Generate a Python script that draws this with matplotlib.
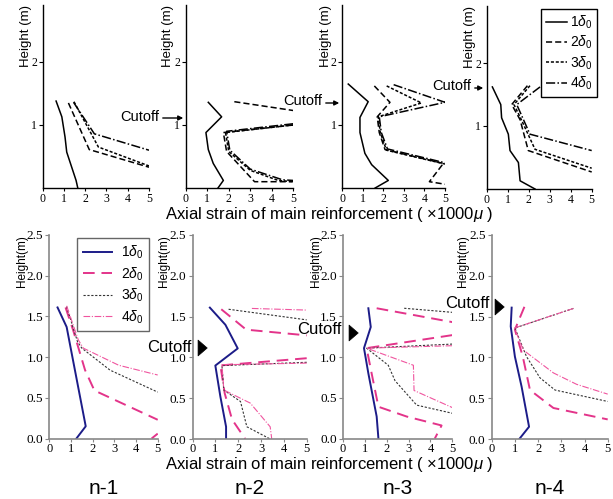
import numpy as np
import matplotlib
matplotlib.use("Agg")
import matplotlib.pyplot as plt
import matplotlib.patches as mpatches

nan = np.nan
plt.rcParams['font.family'] = ['Liberation Sans', 'DejaVu Sans']
plt.rcParams['mathtext.fontset'] = 'custom'
plt.rcParams['mathtext.rm'] = 'Liberation Sans'
plt.rcParams['mathtext.it'] = 'Liberation Sans:italic'

series_labels = [r'1$\delta_{0}$', r'2$\delta_{0}$', r'3$\delta_{0}$', r'4$\delta_{0}$']
panel_names = ['n-1', 'n-2', 'n-3', 'n-4']
x_ticks = [0, 1, 2, 3, 4, 5]
top_y_ticks = [1, 2]
bottom_y_ticks = [0.0, 0.5, 1.0, 1.5, 2.0, 2.5]

# ---- top row (black & white) ----
t1_x = [[0.63, 0.9, 1.05, 1.13, 1.57, 1.65],
        [1.21, 2.19, 5.0],
        [1.47, 2.62, 5.0],
        [1.45, 2.43, 5.0]]
t1_y = [[1.38, 1.13, 0.81, 0.57, 0.12, 0.0],
        [1.35, 0.61, 0.33],
        [1.37, 0.65, 0.35],
        [1.36, 0.86, 0.6]]
t2_x = [[1.05, 1.67, 0.94, 1.05, 1.28, 1.75, 1.5],
        [2.26, 5.0, nan, 5.0, 1.75, 1.9, 3.2, 5.0],
        [5.0, 1.85, 2.0, 3.0, 4.3, 5.0],
        [5.0, 1.9, 2.05, 3.0, 4.5, 5.0]]
t2_y = [[1.36, 1.13, 0.88, 0.61, 0.39, 0.12, 0.0],
        [1.37, 1.23, nan, 1.0, 0.88, 0.58, 0.1, 0.1],
        [1.0, 0.88, 0.58, 0.28, 0.12, 0.1],
        [1.02, 0.9, 0.6, 0.3, 0.13, 0.12]]
t3_x = [[0.29, 1.26, 0.86, 0.86, 1.1, 1.43, 2.24, 1.6],
        [1.56, 2.32, 1.7, 1.8, 2.08, 4.92, 4.24, 5.0],
        [2.16, 3.85, 1.75, 1.85, 2.15, 5.0],
        [2.5, 5.0, 1.8, 1.9, 2.2, 5.0]]
t3_y = [[1.65, 1.37, 1.12, 0.88, 0.55, 0.37, 0.12, 0.0],
        [1.62, 1.36, 1.13, 0.88, 0.61, 0.39, 0.1, 0.06],
        [1.62, 1.35, 1.13, 0.88, 0.6, 0.38],
        [1.64, 1.36, 1.13, 0.88, 0.62, 0.4]]
t4_x = [[0.27, 0.67, 0.71, 1.03, 1.11, 1.51, 1.59, 2.3],
        [1.94, 1.19, 1.59, 1.98, 5.0],
        [2.06, 1.3, 1.65, 2.3, 5.0],
        [2.54, 1.43, 2.06, 5.0]]
t4_y = [[1.62, 1.34, 1.13, 0.87, 0.61, 0.42, 0.13, 0.0],
        [1.64, 1.34, 1.1, 0.61, 0.27],
        [1.64, 1.34, 1.1, 0.63, 0.33],
        [1.62, 1.34, 0.87, 0.61]]

# ---- bottom row (colour) ----
b1_x = [[0.38, 0.8, 1.03, 1.42, 1.68, 1.25],
        [0.75, 1.1, 1.65, 2.08, 5.0, nan, 4.72, 5.0],
        [0.8, 1.3, 1.5, 2.8, 5.0],
        [0.8, 1.34, 1.57, 3.2, 5.0]]
b1_y = [[1.61, 1.37, 1.05, 0.51, 0.15, 0.0],
        [1.61, 1.33, 0.84, 0.59, 0.23, nan, 0.0, 0.06],
        [1.62, 1.19, 1.11, 0.84, 0.57],
        [1.63, 1.21, 1.11, 0.9, 0.78]]
b2_x = [[0.76, 1.44, 1.98, 1.0, 1.22, 1.47, 1.47],
        [1.26, 2.35, 5.0, nan, 5.0, 1.15, 1.25, 1.41, 1.73, 2.31],
        [1.58, 5.0, nan, 5.0, 1.29, 1.37, 2.1, 2.38, 3.4],
        [2.6, 5.0, nan, 5.0, 1.29, 1.37, 2.53, 3.4, 3.47]]
b2_y = [[1.61, 1.4, 1.11, 0.9, 0.52, 0.15, 0.0],
        [1.59, 1.34, 1.27, nan, 0.99, 0.9, 0.85, 0.56, 0.24, 0.0],
        [1.59, 1.46, nan, 0.94, 0.9, 0.6, 0.46, 0.15, 0.0],
        [1.6, 1.58, nan, 0.93, 0.91, 0.6, 0.44, 0.15, 0.0]]
b3_x = [[1.16, 1.27, 0.96, 1.16, 1.54, 1.62],
        [1.54, 5.0, nan, 5.0, 1.08, 1.31, 1.62, 2.91, 4.51, 4.2],
        [2.8, 5.0, nan, 5.0, 1.08, 2.07, 2.38, 3.37, 5.0],
        [5.0, 1.08, 3.22, 3.25, 5.0]]
b3_y = [[1.6, 1.37, 1.11, 0.8, 0.27, 0.0],
        [1.6, 1.43, nan, 1.27, 1.11, 0.8, 0.39, 0.27, 0.16, 0.0],
        [1.6, 1.55, nan, 1.16, 1.11, 0.9, 0.71, 0.41, 0.31],
        [1.14, 1.11, 0.9, 0.59, 0.38]]
b4_x = [[0.86, 0.82, 1.0, 1.29, 1.61, 1.19],
        [1.41, 1.0, 1.34, 1.65, 2.66, 5.0],
        [3.52, 1.0, 1.5, 2.08, 2.73, 5.0],
        [3.52, 0.98, 1.36, 2.66, 3.66, 5.0]]
b4_y = [[1.61, 1.38, 1.01, 0.64, 0.15, 0.0],
        [1.62, 1.34, 1.01, 0.6, 0.38, 0.24],
        [1.6, 1.36, 1.01, 0.75, 0.6, 0.46],
        [1.6, 1.36, 1.09, 0.81, 0.67, 0.55]]

top_data = [(t1_x, t1_y), (t2_x, t2_y), (t3_x, t3_y), (t4_x, t4_y)]
bot_data = [(b1_x, b1_y), (b2_x, b2_y), (b3_x, b3_y), (b4_x, b4_y)]

W, H = 613, 499
fig = plt.figure(figsize=(W / 100, H / 100), dpi=100)


def rect(l, r, b, t):
    return [l / W, 1 - b / H, (r - l) / W, (b - t) / H]


def px(x, y):
    return (x / W, 1 - y / H)


top_styles = [dict(color='k', lw=1.1, ls='-'),
              dict(color='k', lw=1.1, ls=(0, (4, 2))),
              dict(color='k', lw=1.1, ls=(0, (2, 1.2))),
              dict(color='k', lw=1.1, ls=(0, (6, 1.5, 1, 1.5)))]
bot_styles = [dict(color='#1c1c88', lw=1.4, ls='-'),
              dict(color='#e3348a', lw=1.4, ls=(0, (6, 3.5))),
              dict(color='#333333', lw=0.8, ls=(0, (2, 1.5))),
              dict(color='#f0559f', lw=0.8, ls=(0, (6, 1.5, 1, 1.5)))]

top_rects = [rect(42.7, 149, 188, 188 - 2.9 * 63),
             rect(185.7, 293.3, 188, 188 - 2.9 * 63),
             rect(342.3, 445, 188, 188 - 2.9 * 63),
             rect(486.7, 591.7, 189, 189 - 2.9 * 63)]
bot_rects = [rect(49.3, 157.7, 438.5, 235),
             rect(192.5, 306.7, 439, 235),
             rect(343, 452.3, 438.5, 235),
             rect(491.7, 607.7, 439, 235)]

serif = 'Liberation Serif'
top_handles = None
bot_handles = None

for i, (r, (xs, ys)) in enumerate(zip(top_rects, top_data)):
    ax = fig.add_axes(r)
    hs = []
    for k in range(4):
        h, = ax.plot(xs[k], ys[k], **top_styles[k])
        hs.append(h)
    if i == 3:
        top_handles = hs
    ax.set_xlim(0, 5)
    ax.set_ylim(0, 2.9)
    ax.set_xticks(x_ticks)
    ax.set_yticks(top_y_ticks)
    ax.set_xticklabels([str(v) for v in x_ticks], fontfamily=serif, fontsize=8.5)
    ax.set_yticklabels([str(v) for v in top_y_ticks], fontfamily=serif, fontsize=8.5)
    for s in ['top', 'right']:
        ax.spines[s].set_visible(False)
    for s in ['left', 'bottom']:
        ax.spines[s].set_color('k')
        ax.spines[s].set_linewidth(1.0)
    ax.tick_params(axis='y', direction='out', length=3, width=0.8, pad=1)
    ax.tick_params(axis='x', direction='out', length=2, width=0.8, pad=1.5)
    ax.set_facecolor('none')
    ax.text(-0.16, 1.0, 'Height (m)', transform=ax.transAxes, rotation=90,
            ha='center', va='top', fontsize=9.5)

for i, (r, (xs, ys)) in enumerate(zip(bot_rects, bot_data)):
    ax = fig.add_axes(r)
    hs = []
    for k in range(4):
        h, = ax.plot(xs[k], ys[k], **bot_styles[k])
        hs.append(h)
    if i == 0:
        bot_handles = hs
    ax.set_xlim(0, 5)
    ax.set_ylim(0, 2.5)
    ax.set_xticks(x_ticks)
    ax.set_yticks(bottom_y_ticks)
    ax.set_xticklabels([str(v) for v in x_ticks], fontfamily=serif, fontsize=9)
    ax.set_yticklabels(['%.1f' % v for v in bottom_y_ticks], fontfamily=serif,
                       fontsize=9.5)
    for s in ['top', 'right']:
        ax.spines[s].set_visible(False)
    for s in ['left', 'bottom']:
        ax.spines[s].set_color('#888888')
        ax.spines[s].set_linewidth(1.2)
    ax.tick_params(direction='out', length=3, width=0.8, color='#888888', pad=1.5)
    ax.tick_params(axis='x', length=2, pad=1)
    ax.set_facecolor('none')
    ax.text(-0.25, 1.0, 'Height(m)', transform=ax.transAxes, rotation=90,
            ha='center', va='top', fontsize=8.5)
    fig.text((r[0] + r[2] / 2), 1 - 488 / H, panel_names[i], ha='center',
             va='center', fontsize=15)

# legends
fig.legend(top_handles, series_labels, loc='upper left',
           bbox_to_anchor=px(541, 9), bbox_transform=fig.transFigure,
           fontsize=10, handlelength=1.5, handletextpad=0.25,
           labelspacing=0.2, borderpad=0.35, borderaxespad=0,
           frameon=True, fancybox=False, edgecolor='k', framealpha=1)
fig.legend(bot_handles, series_labels, loc='upper left',
           bbox_to_anchor=px(77, 238), bbox_transform=fig.transFigure,
           fontsize=10, handlelength=2.1, handletextpad=0.7,
           labelspacing=0.3, borderpad=0.4, borderaxespad=0,
           frameon=True, fancybox=False, edgecolor='#666666',
           framealpha=1)

xlabel = 'Axial strain of main reinforcement ( \u00d71000$\\mu$ )'
fig.text(*px(329, 215), xlabel, ha='center', va='center', fontsize=12)
fig.text(*px(329, 465), xlabel, ha='center', va='center', fontsize=12)

# top cutoff annotations
top_cut = [((159, 117), (160, 118), (186, 118)),
           ((322, 101), (323, 103), (342, 103)),
           ((471, 86), (472, 88), (486, 88))]
for (tx, ty), (ax0, ay0), (ax1, ay1) in top_cut:
    fig.text(*px(tx, ty), 'Cutoff', ha='right', va='center', fontsize=10.5)
    fig.add_artist(mpatches.FancyArrowPatch(
        px(ax0, ay0), px(ax1, ay1), transform=fig.transFigure,
        arrowstyle='-|>', mutation_scale=7, lw=1.0, color='k'))

bot_cut = [((191, 347), (196, 348), (210, 348)),
           ((342, 330), (347, 333), (361, 333)),
           ((489, 303), (493, 307), (507, 307))]
for (tx, ty), (ax0, ay0), (ax1, ay1) in bot_cut:
    fig.text(*px(tx, ty), 'Cutoff', ha='right', va='center', fontsize=12)
    fig.add_artist(mpatches.FancyArrowPatch(
        px(ax0, ay0), px(ax1, ay1), transform=fig.transFigure,
        arrowstyle='simple,head_length=0.55,head_width=0.95,tail_width=0.55',
        mutation_scale=12, lw=0.5, color='k'))

fig.savefig('out.png', dpi=100)
